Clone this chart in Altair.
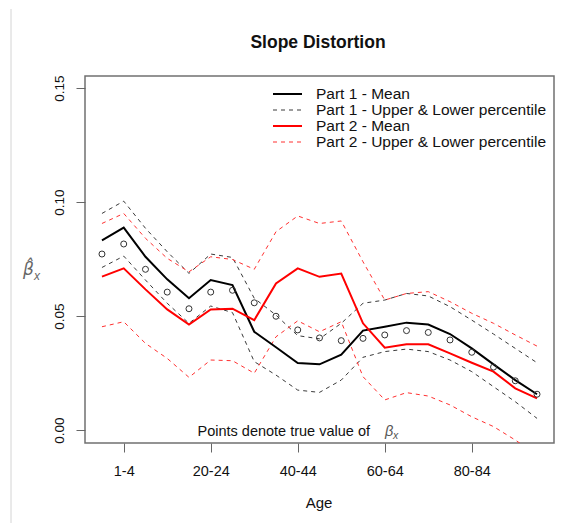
import altair as alt
import pandas as pd

# Age groups along the x axis (index 0..20)
age_groups = ["0", "1-4", "5-9", "10-14", "15-19", "20-24", "25-29", "30-34",
              "35-39", "40-44", "45-49", "50-54", "55-59", "60-64", "65-69",
              "70-74", "75-79", "80-84", "85-89", "90-94", "95+"]
x_tick_groups = ["1-4", "20-24", "40-44", "60-64", "80-84"]
y_ticks = [0.0, 0.05, 0.10, 0.15]

# True slope values (points)
true_beta = [0.0772, 0.0816, 0.0705, 0.0605, 0.0532, 0.0605, 0.0613, 0.0558,
             0.0499, 0.0439, 0.0404, 0.0392, 0.0402, 0.0417, 0.0436, 0.0428,
             0.0395, 0.0341, 0.0276, 0.0216, 0.0157]

# Part 1 estimates
part1_mean = [0.0832, 0.0888, 0.0760, 0.0661, 0.0578, 0.0658, 0.0636, 0.0431,
              0.0363, 0.0294, 0.0288, 0.0330, 0.0436, 0.0453, 0.0471, 0.0463,
              0.0421, 0.0358, 0.0288, 0.0219, 0.0157]
part1_upper = [0.0950, 0.1004, 0.0885, 0.0782, 0.0687, 0.0772, 0.0757, 0.0578,
               0.0504, 0.0414, 0.0400, 0.0468, 0.0556, 0.0570, 0.0599, 0.0588,
               0.0541, 0.0482, 0.0421, 0.0358, 0.0295]
part1_lower = [0.0713, 0.0763, 0.0658, 0.0556, 0.0468, 0.0544, 0.0515, 0.0300,
               0.0241, 0.0175, 0.0165, 0.0219, 0.0319, 0.0344, 0.0355, 0.0344,
               0.0307, 0.0256, 0.0190, 0.0124, 0.0051]

# Part 2 estimates
part2_mean = [0.0673, 0.0709, 0.0617, 0.0529, 0.0463, 0.0529, 0.0532, 0.0482,
              0.0643, 0.0709, 0.0672, 0.0686, 0.0468, 0.0361, 0.0376, 0.0376,
              0.0336, 0.0295, 0.0256, 0.0183, 0.0139]
part2_upper = [0.0906, 0.0950, 0.0841, 0.0753, 0.0694, 0.0760, 0.0748, 0.0705,
               0.0870, 0.0939, 0.0906, 0.0917, 0.0738, 0.0570, 0.0599, 0.0607,
               0.0563, 0.0512, 0.0468, 0.0417, 0.0368]
part2_lower = [0.0453, 0.0475, 0.0380, 0.0314, 0.0231, 0.0307, 0.0304, 0.0249,
               0.0409, 0.0479, 0.0431, 0.0475, 0.0234, 0.0132, 0.0164, 0.0149,
               0.0110, 0.0058, 0.0015, -0.0044, -0.0110]

legend_labels = ["Part 1 - Mean", "Part 1 - Upper & Lower percentile",
                 "Part 2 - Mean", "Part 2 - Upper & Lower percentile"]

FONT = "Liberation Sans"
W, H = 469, 367

series = {
    "true": true_beta,
    "p1_mean": part1_mean, "p1_upper": part1_upper, "p1_lower": part1_lower,
    "p2_mean": part2_mean, "p2_upper": part2_upper, "p2_lower": part2_lower,
}
rows = []
for name, vals in series.items():
    for i, v in enumerate(vals):
        rows.append({"idx": i, "age": age_groups[i], "value": v, "series": name})
df = pd.DataFrame(rows)

tick_idx = [age_groups.index(a) for a in x_tick_groups]
label_expr = "[" + ",".join(f"'{a}'" for a in age_groups) + "][datum.value]"

x_enc = alt.X("idx:Q",
              scale=alt.Scale(domain=[-0.78, 20.78], nice=False, zero=False),
              axis=alt.Axis(values=tick_idx, labelExpr=label_expr, title=None,
                            domain=False, grid=False, tickSize=9,
                            tickColor="#666666", labelFontSize=14.5,
                            labelFont=FONT, labelColor="#111111",
                            labelPadding=12, labelBaseline="top"))
y_enc = alt.Y("value:Q",
              scale=alt.Scale(domain=[-0.0057, 0.1553], nice=False, zero=False),
              axis=alt.Axis(values=y_ticks, format=".2f", title=None,
                            domain=False, grid=False, tickSize=9,
                            tickColor="#666666", labelFontSize=13.5,
                            labelFont=FONT, labelColor="#111111",
                            labelAngle=270, labelAlign="center",
                            labelBaseline="middle", labelPadding=17))

base = alt.Chart(df).encode(x=x_enc, y=y_enc)


def line(name, color, width, dash=None):
    kw = dict(color=color, strokeWidth=width, clip=True)
    if dash:
        kw["strokeDash"] = dash
    return base.transform_filter(alt.datum.series == name).mark_line(**kw)


layers = [
    line("p1_upper", "#3a3a3a", 1, [4, 4]),
    line("p1_lower", "#3a3a3a", 1, [4, 4]),
    line("p2_upper", "#ff3030", 1, [4, 4]),
    line("p2_lower", "#ff3030", 1, [4, 4]),
    line("p1_mean", "#000000", 2),
    line("p2_mean", "#ff0000", 2),
    base.transform_filter(alt.datum.series == "true").mark_point(
        shape="circle", filled=False, size=36, stroke="#333333",
        strokeWidth=1, opacity=1),
]

one = pd.DataFrame({"k": [0]})


def text(t, x, y, size, font=FONT, **kw):
    return alt.Chart(one).mark_text(font=font, fontSize=size, **kw).encode(
        x=alt.value(x), y=alt.value(y), text=alt.value(t))


# Legend (top-right inside the frame)
legend_styles = [("#000000", 2, None), ("#3a3a3a", 1, [4, 4]),
                 ("#ff0000", 2, None), ("#ff3030", 1, [4, 4])]
for k, (lab, (col, sw, dash)) in enumerate(zip(legend_labels, legend_styles)):
    yy = 18 + 16 * k
    kw = dict(color=col, strokeWidth=sw)
    if dash:
        kw["strokeDash"] = dash
    layers.append(alt.Chart(one).mark_rule(**kw).encode(
        x=alt.value(188), x2=alt.value(217), y=alt.value(yy)))
    layers.append(text(lab, 231, yy, 15.5, align="left", baseline="middle",
                       color="#111111"))

# Annotation inside the plot
layers += [
    text("Points denote true value of", 285, 356, 14.5, align="right",
         baseline="middle", color="#111111"),
    text("\u03b2", 300, 356, 14.5, align="left", baseline="middle",
         fontStyle="italic", color="#555555"),
    text("x", 308, 360, 10.5, align="left", baseline="middle",
         fontStyle="italic", color="#555555"),
]

# Title, axis titles and page edge
layers += [
    text("Slope Distortion", 233, -33, 17.5, align="center", baseline="middle",
         fontWeight="bold", color="#111111"),
    text("Age", 234, H + 60, 15, align="center", baseline="middle",
         color="#111111"),
    text("\u03b2\u0302", -62, 194, 17, font="DejaVu Sans", align="left",
         baseline="middle", fontStyle="italic", color="#666666"),
    text("x", -51, 200, 12, align="left", baseline="middle",
         fontStyle="italic", color="#666666"),
    alt.Chart(one).mark_rule(color="#d4d4d4", strokeWidth=1).encode(
        x=alt.value(-74), y=alt.value(-67), y2=alt.value(447)),
]

chart = alt.layer(*layers).properties(
    width=W, height=H,
    autosize=alt.AutoSizeParams(type="none"),
    padding={"left": 85, "top": 76, "right": 27, "bottom": 80},
    background="white",
).configure_view(stroke="#707070", strokeWidth=1.5)

chart.save("out.html", embed_options={"renderer": "svg", "actions": False})
